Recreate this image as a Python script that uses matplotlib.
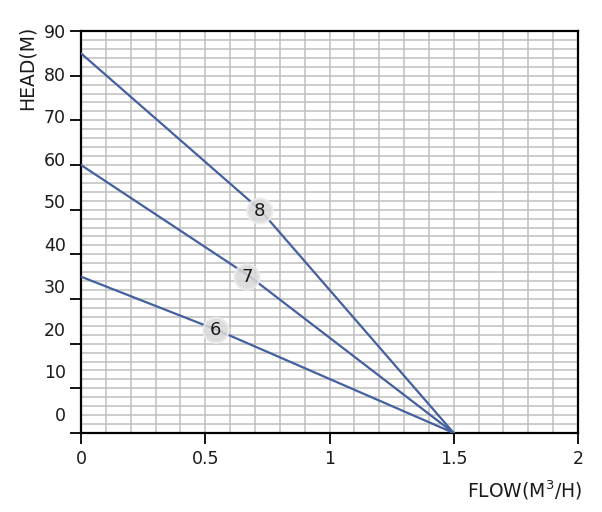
import numpy as np
import matplotlib
matplotlib.use('Agg')
import matplotlib.pyplot as plt

# pump curves, flow in m3/h, head in m
flow_6 = [0, 0.55, 1.5]
head_6 = [35, 23, 0]
flow_7 = [0, 0.68, 1.5]
head_7 = [60, 35, 0]
flow_8 = [0, 0.72, 1.5]
head_8 = [85, 50, 0]

curve_names = ['6', '7', '8']
name_x = [0.543, 0.668, 0.72]
name_y = [23.0, 34.9, 49.7]

head_ticks = list(range(0, 100, 10))
flow_ticks = [0, 0.5, 1, 1.5, 2]
flow_labels = ['0', '0.5', '1', '1.5', '2']

line_color = '#44609f'

fig = plt.figure(figsize=(6.02, 5.12), dpi=100)
ax = fig.add_axes([81 / 602, 1 - 433 / 512, 497 / 602, 402 / 512])
ax.set_xlim(0, 2)
ax.set_ylim(0, 90)

# fine grid
ax.hlines(np.arange(2, 90, 2), 0, 2, color='#bfbfbf', lw=1.1, zorder=1)
ax.vlines(np.arange(0.1, 2.0, 0.1), 0, 90, color='#bfbfbf', lw=1.1, zorder=1)

for fx, hy in [(flow_6, head_6), (flow_7, head_7), (flow_8, head_8)]:
    ax.plot(fx, hy, color=line_color, lw=1.6, zorder=3)

for name, x, y in zip(curve_names, name_x, name_y):
    ax.text(x, y, name, ha='center', va='center', fontsize=13, color='#1a1a1a', zorder=4,
            bbox=dict(boxstyle='circle,pad=0.2', facecolor='#d9d9d9', edgecolor='#ececec',
                      lw=1.5, alpha=0.85))

# tick marks on the tens, labels drawn a little higher as in the original sheet
ax.set_yticks(head_ticks)
ax.set_yticklabels([''] * len(head_ticks))
ax.tick_params(axis='y', which='major', length=8, width=1.3, direction='out')
ax.set_yticks([4.25 + v * 0.9526 for v in head_ticks], minor=True)
ax.set_yticklabels([str(v) for v in head_ticks], minor=True, fontsize=12.5, color='#1a1a1a')
ax.tick_params(axis='y', which='minor', length=0, pad=10.8)

ax.set_xticks(flow_ticks)
ax.set_xticklabels(flow_labels, fontsize=12.5, color='#1a1a1a')
ax.tick_params(axis='x', length=8, width=1.3, direction='out', pad=4)

for sp in ax.spines.values():
    sp.set_linewidth(1.6)
    sp.set_color('black')

fig.text(27 / 602, 1 - 68 / 512, 'HEAD(M)', rotation=90, ha='center', va='center',
         fontsize=13.5, color='#1a1a1a')
fig.text(582 / 602, 1 - 490 / 512, 'FLOW(M$^3$/H)', ha='right', va='center',
         fontsize=13.5, color='#1a1a1a')

fig.savefig('out.png', dpi=100)
